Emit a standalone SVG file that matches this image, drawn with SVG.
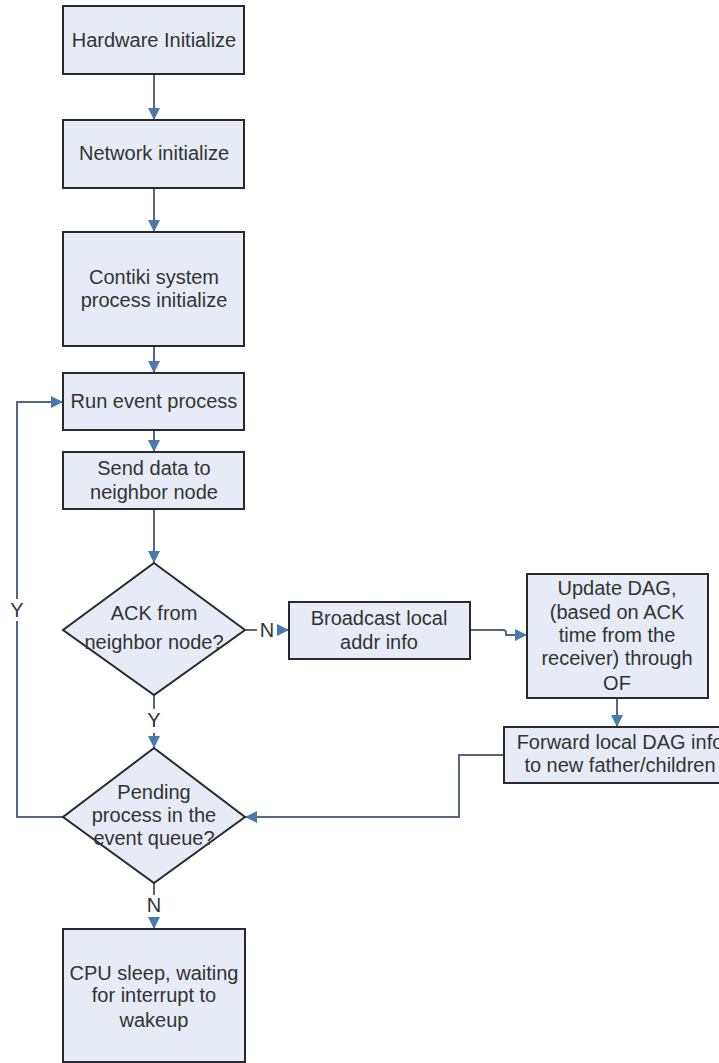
<svg xmlns="http://www.w3.org/2000/svg" width="719" height="1063" viewBox="0 0 719 1063">
  <style>
    .box { fill: #e6ebf5; stroke: #2a2a2a; stroke-width: 2; }
    .t { font-family: "Liberation Sans", Arial, sans-serif; font-size: 20px; fill: #333; text-anchor: middle; }
    .c { fill: none; stroke: #56677e; stroke-width: 2; }
  </style>
  <defs>
    <marker id="ah" viewBox="0 0 10 10" refX="10" refY="5" markerWidth="12" markerHeight="12" markerUnits="userSpaceOnUse" orient="auto">
      <path d="M0,0 L10,5 L0,10 Z" fill="#4a78b0"/>
    </marker>
  </defs>
  <rect width="719" height="1063" fill="#ffffff"/>

  <g id="connectors">
    <line class="c" x1="154" y1="74" x2="154" y2="120" marker-end="url(#ah)"/>
    <line class="c" x1="154" y1="188" x2="154" y2="232" marker-end="url(#ah)"/>
    <line class="c" x1="154" y1="346" x2="154" y2="373" marker-end="url(#ah)"/>
    <line class="c" x1="154" y1="430" x2="154" y2="452" marker-end="url(#ah)"/>
    <line class="c" x1="154" y1="509" x2="154" y2="563" marker-end="url(#ah)"/>
    <line class="c" x1="154" y1="695" x2="154" y2="709"/>
    <line class="c" x1="154" y1="733" x2="154" y2="748" marker-end="url(#ah)"/>
    <line class="c" x1="245" y1="630" x2="257" y2="630"/>
    <line class="c" x1="277" y1="630" x2="289" y2="630" marker-end="url(#ah)"/>
    <path class="c" d="M470,630 H503 Q506,630 506,633 V635 H527" marker-end="url(#ah)"/>
    <line class="c" x1="617" y1="698" x2="617" y2="727" marker-end="url(#ah)"/>
    <path class="c" d="M504,755 H459 V817 H245" marker-end="url(#ah)"/>
    <line class="c" x1="154" y1="883" x2="154" y2="895"/>
    <line class="c" x1="154" y1="918" x2="154" y2="929" marker-end="url(#ah)"/>
    <path class="c" d="M63,817 H17 V621"/>
    <path class="c" d="M17,599 V402 H63" marker-end="url(#ah)"/>
    <text class="t" x="154" y="727">Y</text>
    <text class="t" x="267" y="637">N</text>
    <text class="t" x="154" y="912">N</text>
    <text class="t" x="17" y="617">Y</text>
  </g>

  <g id="n1">
    <rect class="box" x="63" y="6" width="181" height="68"/>
    <text class="t" x="154" y="47">Hardware Initialize</text>
  </g>
  <g id="n2">
    <rect class="box" x="63" y="120" width="181" height="68"/>
    <text class="t" x="154" y="160">Network initialize</text>
  </g>
  <g id="n3">
    <rect class="box" x="63" y="232" width="181" height="114"/>
    <text class="t" x="154" y="284">Contiki system</text>
    <text class="t" x="154" y="307">process initialize</text>
  </g>
  <g id="n4">
    <rect class="box" x="63" y="373" width="181" height="57"/>
    <text class="t" x="154" y="408">Run event process</text>
  </g>
  <g id="n5">
    <rect class="box" x="63" y="452" width="181" height="57"/>
    <text class="t" x="154" y="475">Send data to</text>
    <text class="t" x="154" y="499">neighbor node</text>
  </g>
  <g id="n6">
    <polygon class="box" points="154,563 245,630 154,695 63,630"/>
    <text class="t" x="154" y="620">ACK from</text>
    <text class="t" x="154" y="649">neighbor node?</text>
  </g>
  <g id="n7">
    <rect class="box" x="289" y="602" width="181" height="57"/>
    <text class="t" x="379" y="625">Broadcast local</text>
    <text class="t" x="379" y="649">addr info</text>
  </g>
  <g id="n8">
    <rect class="box" x="527" y="574" width="181" height="124"/>
    <text class="t" x="617" y="595">Update DAG,</text>
    <text class="t" x="617" y="619">(based on ACK</text>
    <text class="t" x="617" y="642">time from the</text>
    <text class="t" x="617" y="665">receiver) through</text>
    <text class="t" x="617" y="690">OF</text>
  </g>
  <g id="n9">
    <rect class="box" x="504" y="727" width="232" height="56"/>
    <text class="t" x="620" y="749">Forward local DAG info</text>
    <text class="t" x="620" y="772">to new father/children</text>
  </g>
  <g id="n10">
    <polygon class="box" points="154,748 245,817 154,883 63,817"/>
    <text class="t" x="154" y="799">Pending</text>
    <text class="t" x="154" y="822">process in the</text>
    <text class="t" x="154" y="845">event queue?</text>
  </g>
  <g id="n11">
    <rect class="box" x="63" y="929" width="182" height="133"/>
    <text class="t" x="154" y="980">CPU sleep, waiting</text>
    <text class="t" x="154" y="1002">for interrupt to</text>
    <text class="t" x="154" y="1027">wakeup</text>
  </g>
</svg>
